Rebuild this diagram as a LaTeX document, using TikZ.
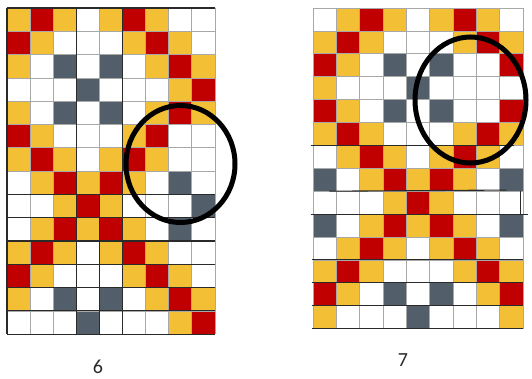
\documentclass[tikz,border=0pt]{standalone}
\usepackage{fontspec}
\setmainfont{Carlito}
\definecolor{mustard}{HTML}{F3BF34}
\definecolor{crimson}{HTML}{C00000}
\definecolor{slate}{HTML}{525E6A}
\definecolor{bk35}{HTML}{A8A8A8}
\definecolor{bk85}{HTML}{2A2A2A}
\colorlet{cellY}{mustard}
\colorlet{cellR}{crimson}
\colorlet{cellG}{slate}
\colorlet{cellW}{white}

\tikzset{
  thinline/.style={line width=0.7pt, color=bk35},
  heavyline/.style={line width=1.1pt, color=bk85},
  ring/.style={line width=5pt, color=black},
  caption/.style={font=\fontsize{20}{24}\selectfont, color=bk85, inner sep=0pt}
}

\begin{document}
\begin{tikzpicture}[x=1pt, y=-1pt]
\useasboundingbox[fill=white] (0,0) rectangle (532,379);

% Left pattern (6)
\begin{scope}[shift={(7,8)}, x=23.1pt, y=-23.3pt]
\foreach \cells [count=\j from 0] in {
  {Y,R,Y,W,Y,R,Y,W,W},
  {R,Y,W,W,W,Y,R,Y,W},
  {Y,W,G,W,G,W,Y,R,Y},
  {W,W,W,G,W,W,W,Y,R},
  {Y,W,G,W,G,W,Y,R,Y},
  {R,Y,W,W,W,Y,R,W,W},
  {Y,R,Y,W,Y,R,Y,W,W},
  {W,Y,R,Y,R,Y,W,G,W},
  {W,W,Y,R,Y,W,W,W,G},
  {W,Y,R,Y,R,Y,W,G,W},
  {Y,R,Y,W,Y,R,Y,W,W},
  {R,Y,W,W,W,Y,R,Y,W},
  {Y,W,G,W,G,W,Y,R,Y},
  {W,W,W,G,W,W,W,Y,R}}{
  \foreach \c [count=\i from 0] in \cells
    \fill[cell\c] (\i,\j) rectangle ++(1,1);
}
\foreach \i in {0,...,9} \draw[thinline] (\i,0) -- (\i,14);
\foreach \j in {0,...,14} \draw[thinline] (0,\j) -- (9,\j);
% Darker rules
\draw[heavyline] (0,0) -- (9,0);
\foreach \i in {0,3,5} \draw[heavyline] (\i,0) -- (\i,14);
\draw[heavyline] (4,8) -- (4,14);
\foreach \j in {8,...,14} \draw[heavyline] (0,\j) -- (9,\j);
\end{scope}

% Right pattern (7)
\begin{scope}[shift={(313,8)}, x=23.33pt, y=-22.9pt]
\foreach \cells [count=\j from 0] in {
  {W,Y,R,Y,W,Y,R,Y,W},
  {Y,R,Y,W,W,W,Y,R,Y},
  {R,Y,W,G,W,G,W,W,R},
  {Y,W,W,W,G,W,W,W,W},
  {R,Y,W,G,W,G,W,W,R},
  {Y,R,Y,W,W,W,Y,R,Y},
  {W,Y,R,Y,W,Y,R,Y,W},
  {G,W,Y,R,Y,R,Y,W,G},
  {W,W,W,Y,R,Y,W,W,W},
  {G,W,Y,R,Y,R,Y,W,G},
  {W,Y,R,Y,W,Y,R,Y,W},
  {Y,R,Y,W,W,W,Y,R,Y},
  {R,Y,W,G,W,G,W,Y,R},
  {Y,W,W,W,G,W,W,W,Y}}{
  \foreach \c [count=\i from 0] in \cells
    \fill[cell\c] (\i,\j) rectangle ++(1,1);
}
\foreach \i in {0,...,9} \draw[thinline] (\i,0) -- (\i,14);
\foreach \j in {0,...,14} \draw[thinline] (0,\j) -- (9,\j);
% Darker rules
\draw[heavyline] (-0.1,6) -- (8.6,6);
\draw[heavyline] (0.7,8) -- (8.3,7.95);
\draw[heavyline] (-0.1,9) -- (9.2,9);
\draw[heavyline] (8.9,8) -- (8.9,9);
\foreach \j in {11,12,13,14} \draw[heavyline] (-0.05,\j) -- (9,\j);
\end{scope}

% Circles
\draw[ring] (180.5,164) ellipse [x radius=54.5, y radius=58.5];
\draw[ring] (470.5,100) ellipse [x radius=55.5, y radius=63];

% Labels
\node[caption] (six) at (98,367) {6};
\node[caption] (seven) at (403,360) {7};

\end{tikzpicture}
\end{document}
